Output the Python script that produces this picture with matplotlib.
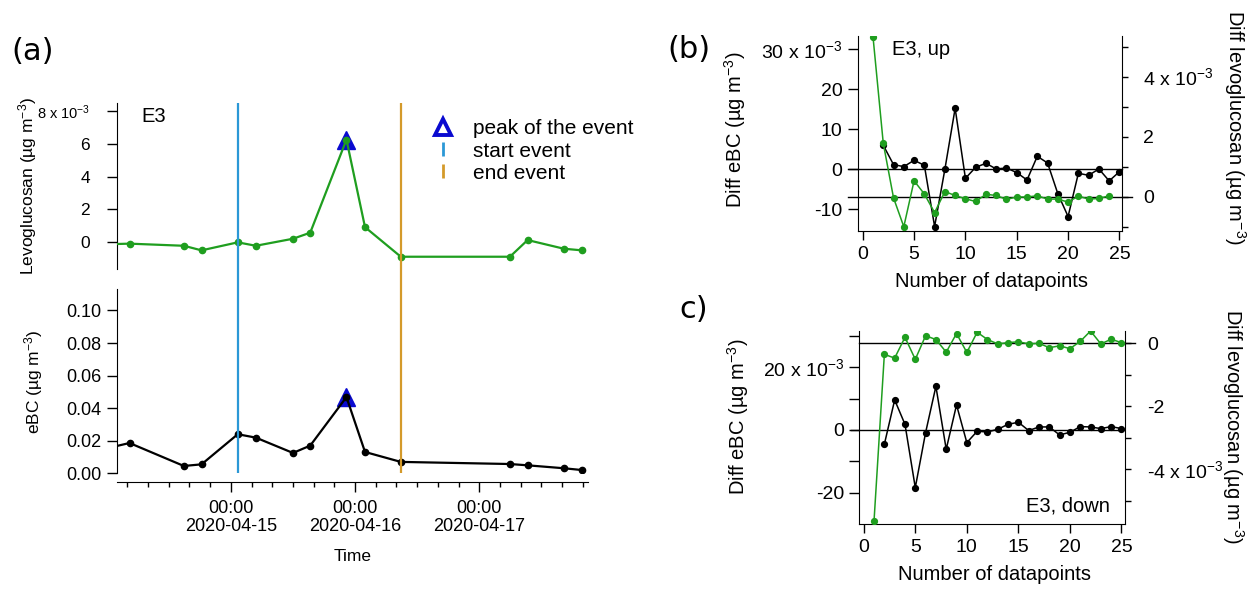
import matplotlib
matplotlib.use("Agg")
import matplotlib.pyplot as plt
import matplotlib.dates as mdates
from matplotlib.lines import Line2D
import numpy as np
import pandas as pd

plt.rcParams["font.family"] = ["Liberation Sans", "DejaVu Sans"]
plt.rcParams["mathtext.default"] = "regular"
plt.rcParams["axes.unicode_minus"] = False

GREEN = "#1f9e1f"
BLUE_LINE = "#2b98d6"
ORANGE_LINE = "#d49a2a"
PEAK_BLUE = "#0a0ad0"

# ---- panel (a): event E3 time series ----
times = pd.to_datetime([
    "2020-04-14 00:55", "2020-04-14 04:25", "2020-04-14 14:55", "2020-04-14 18:20",
    "2020-04-15 01:20", "2020-04-15 04:50", "2020-04-15 12:00", "2020-04-15 15:20",
    "2020-04-15 22:20", "2020-04-16 01:55", "2020-04-16 08:50", "2020-04-17 05:55",
    "2020-04-17 09:20", "2020-04-17 16:20", "2020-04-17 19:50",
])
levo = [-0.13, -0.10, -0.23, -0.51, -0.02, -0.23, 0.20, 0.57, 6.26, 0.91,
        -0.90, -0.90, 0.12, -0.41, -0.51]  # x 1e-3 ug m-3
ebc = [0.016, 0.0186, 0.0045, 0.0055, 0.0240, 0.0219, 0.0125, 0.0170, 0.0468,
       0.0131, 0.0070, 0.0057, 0.0049, 0.0031, 0.0020]  # ug m-3
t_start = pd.Timestamp("2020-04-15 01:20")
t_end = pd.Timestamp("2020-04-16 08:50")
t_lo = pd.Timestamp("2020-04-14 02:00")
t_hi = pd.Timestamp("2020-04-17 21:00")

# ---- panels (b), (c): differences vs number of datapoints ----
npts = np.arange(1, 26)
nan = np.nan
diff_ebc_up = [nan, 6.0, 1.17, 0.67, 2.25, 1.0, -14.3, 0.0, 15.25, -2.25, 0.5, 1.5,
               0.08, 0.33, -0.83, -2.67, 3.25, 1.58, -6.1, -11.8, -1.0, -1.5, 0.08,
               -2.9, -0.6]
diff_levo_up = [5.33, 1.78, -0.04, -1.0, 0.53, 0.09, -0.53, 0.17, 0.04, -0.07, -0.16,
                0.08, 0.04, -0.09, -0.01, -0.01, 0.03, -0.08, -0.08, -0.18, 0.02,
                -0.08, -0.06, 0.03, nan]
diff_ebc_down = [nan, -4.57, 9.57, 1.8, -18.4, -0.85, 13.9, -6.17, 7.98, -4.04, -0.43,
                 -0.64, 0.21, 1.8, 2.45, -0.2, 0.96, 0.96, -1.6, -0.74, 1.06, 0.96,
                 0.43, 1.06, 0.43]
diff_levo_down = [-5.63, -0.35, -0.47, 0.19, -0.51, 0.24, 0.12, -0.28, 0.31, -0.29,
                  0.35, 0.12, -0.02, 0.02, 0.05, -0.02, 0.0, -0.14, -0.08, -0.17,
                  0.06, 0.39, -0.02, 0.13, 0.02]

W, H = 1254, 589
fig = plt.figure(figsize=(W / 100, H / 100), dpi=100)


def box(x0, y0, x1, y1):
    # pixel box (top-left origin) -> figure fraction rect
    return [x0 / W, 1 - y1 / H, (x1 - x0) / W, (y1 - y0) / H]


SUP = "$^{-3}$"
unit = "(µg m" + SUP + ")"

# top: levoglucosan
ax_l = fig.add_axes(box(117, 103, 588, 269))
ax_e = fig.add_axes(box(117, 289.3, 588, 473.3), sharex=ax_l)

ipk = int(np.argmax(levo))
ax_l.plot(times[ipk], levo[ipk], marker="^", ms=13, color=PEAK_BLUE, mec=PEAK_BLUE, ls="none", zorder=2)
ax_l.plot(times, levo, color=GREEN, lw=1.6, marker="o", ms=4.5, zorder=3)
ax_l.set_ylim(-1.65, 8.5)
ax_l.set_yticks([0, 2, 4, 6, 8])
ax_l.set_yticklabels(["0", "2", "4", "6", "8 x 10" + SUP])
for s in ["top", "right", "bottom"]:
    ax_l.spines[s].set_visible(False)
ax_l.tick_params(axis="x", which="both", bottom=False, labelbottom=False)
ax_l.tick_params(axis="y", direction="out", length=7.5, width=1, pad=12, labelsize=12.5)
ax_l.yaxis.get_major_ticks()[-1].label1.set_fontsize(10.5)
ax_l.set_ylabel("Levoglucosan " + unit, fontsize=12.5)
ax_l.yaxis.set_label_coords(-0.165, 0.5)
ax_l.text(0.052, 0.92, "E3", transform=ax_l.transAxes, fontsize=14.5, va="center", ha="left")

ipk_e = int(np.argmax(ebc))
ax_e.plot(times[ipk_e], ebc[ipk_e], marker="^", ms=13, color=PEAK_BLUE, mec=PEAK_BLUE, ls="none", zorder=2)
ax_e.plot(times, ebc, color="black", lw=1.6, marker="o", ms=4.5, zorder=3)
ax_e.set_ylim(0, 0.113)
ax_e.set_yticks([0, 0.02, 0.04, 0.06, 0.08, 0.10])
ax_e.set_yticklabels(["0.00", "0.02", "0.04", "0.06", "0.08", "0.10"])
for s in ["top", "right"]:
    ax_e.spines[s].set_visible(False)
ax_e.spines["bottom"].set_position(("outward", 6))
ax_e.set_xlim(t_lo.to_pydatetime(), t_hi.to_pydatetime())
ax_e.xaxis.set_major_locator(mdates.DayLocator())
ax_e.xaxis.set_minor_locator(mdates.HourLocator(byhour=range(0, 24, 4)))
ax_e.xaxis.set_major_formatter(mdates.DateFormatter("%H:%M\n%Y-%m-%d"))
ax_e.tick_params(axis="x", which="major", direction="out", length=7.5, width=1, pad=6, labelsize=13)
ax_e.tick_params(axis="x", which="minor", direction="out", length=3.6, width=1)
ax_e.tick_params(axis="y", direction="out", length=7.5, width=1, pad=4, labelsize=13)
ax_e.set_ylabel("eBC " + unit, fontsize=12.5)
ax_e.yaxis.set_label_coords(-0.152, 0.5)
ax_e.set_xlabel("Time", fontsize=12.5)
ax_e.xaxis.set_label_coords(0.5, -0.41)
for lab in ax_e.get_xticklabels():
    lab.set_linespacing(1.05)

# event start / end lines across both panels
ax_ev = fig.add_axes(box(117, 103, 588, 473.3))
ax_ev.set_xlim(t_lo.to_pydatetime(), t_hi.to_pydatetime())
ax_ev.set_ylim(0, 1)
ax_ev.axis("off")
ax_ev.axvline(t_start.to_pydatetime(), color=BLUE_LINE, lw=1.6)
ax_ev.axvline(t_end.to_pydatetime(), color=ORANGE_LINE, lw=1.6)

handles = [
    Line2D([], [], marker="^", ls="none", ms=12, mfc="white", mec=PEAK_BLUE, mew=2.8),
    Line2D([], [], marker="|", ls="none", ms=10, mec=BLUE_LINE, mew=2),
    Line2D([], [], marker="|", ls="none", ms=10, mec=ORANGE_LINE, mew=2),
]
fig.legend(handles, ["peak of the event", "start event", "end event"],
           loc="upper left", bbox_to_anchor=(433 / W, 1 - 119.5 / H),
           frameon=False, fontsize=15, handlelength=1.0, handletextpad=0.9,
           labelspacing=0.15, borderpad=0, borderaxespad=0)


def diff_panel(rect, xlim, ebc_vals, levo_vals, ylim_l, ylim_r, lticks, llabels, rticks, rlabels,
               zl, zr, tag, tag_xy, tag_ha, lab_l, lab_r):
    ax = fig.add_axes(rect)
    ax2 = ax.twinx()
    ax.axhline(0, xmin=zl[0], xmax=zl[1], color="black", lw=1, clip_on=False, zorder=1)
    ax2.axhline(0, xmin=zr[0], xmax=zr[1], color="black", lw=1, clip_on=False, zorder=1)
    ax.plot(npts, ebc_vals, color="black", lw=1.1, marker="o", ms=4.2, zorder=3)
    ax2.plot(npts, levo_vals, color=GREEN, lw=1.1, marker="o", ms=4.2, zorder=3)
    ax.set_xlim(*xlim)
    ax.set_ylim(*ylim_l)
    ax2.set_ylim(*ylim_r)
    ax.set_xticks([0, 5, 10, 15, 20, 25])
    ax.set_yticks(lticks)
    ax.set_yticklabels(llabels)
    ax2.set_yticks(rticks)
    ax2.set_yticklabels(rlabels)
    for a in (ax, ax2):
        a.spines["top"].set_visible(False)
    ax.spines["right"].set_visible(False)
    ax2.spines["left"].set_visible(False)
    ax2.spines["bottom"].set_visible(False)
    ax.tick_params(axis="x", direction="out", length=6.7, width=1, pad=4, labelsize=14)
    ax.tick_params(axis="y", direction="out", length=7, width=1, pad=4, labelsize=14)
    ax2.tick_params(axis="y", direction="out", length=4, width=1, pad=11.5, labelsize=14)
    ax.set_xlabel("Number of datapoints", fontsize=14.5)
    ax.xaxis.set_label_coords(0.508, -0.21)
    ax.set_ylabel("Diff eBC " + unit, fontsize=14.5)
    ax.yaxis.set_label_coords(*lab_l)
    ax2.set_ylabel("Diff levoglucosan " + unit, fontsize=14.5, rotation=270, va="bottom")
    ax2.yaxis.set_label_coords(*lab_r)
    ax.text(tag_xy[0], tag_xy[1], tag, transform=ax.transAxes, fontsize=14.5,
            ha=tag_ha, va="center")
    return ax, ax2


diff_panel(box(857.7, 35.5, 1121.8, 230.7), (-0.49, 25.23), diff_ebc_up, diff_levo_up,
           (-15.35, 33.45), (-1.133, 5.37),
           [-10, 0, 10, 20, 30], ["-10", "0", "10", "20", "30 x 10" + SUP],
           [-1, 0, 1, 2, 3, 4, 5], ["", "0", "", "2", "", "4 x 10" + SUP, ""],
           (-0.037, 1.0), (-0.037, 1.04), "E3, up", (0.13, 0.929), "left",
           (-0.415, 0.515), (1.379, 0.53))

diff_panel(box(859.2, 331.2, 1125.4, 524.3), (-0.44, 25.38), diff_ebc_down, diff_levo_down,
           (-30.1, 31.5), (-5.746, 0.384),
           [-20, -10, 0, 10, 20, 30], ["-20", "", "0", "", "20 x 10" + SUP, ""],
           [-5, -4, -3, -2, -1, 0], ["", "-4 x 10" + SUP, "", "-2", "", "0"],
           (-0.029, 0.99), (0.0, 1.036), "E3, down", (0.942, 0.095), "right",
           (-0.408, 0.556), (1.355, 0.505))

fig.text(33 / W, 1 - 52 / H, "(a)", fontsize=22, family="DejaVu Sans", ha="center", va="center")
fig.text(688.5 / W, 1 - 50 / H, "(b)", fontsize=22, family="DejaVu Sans", ha="center", va="center")
fig.text(694 / W, 1 - 310 / H, "c)", fontsize=22, family="DejaVu Sans", ha="center", va="center")

fig.savefig("out.png", dpi=100)
